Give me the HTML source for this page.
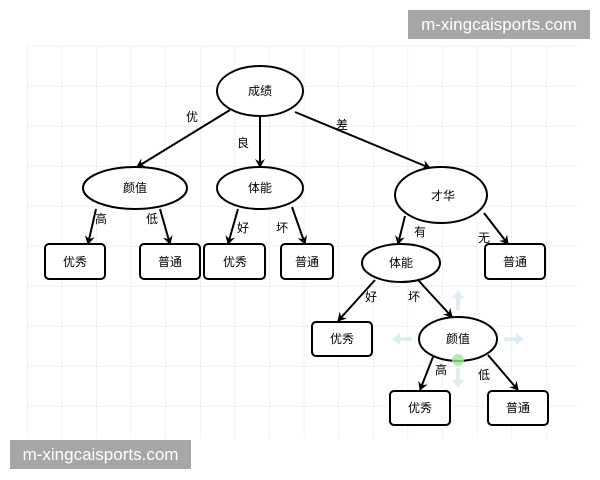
<!DOCTYPE html>
<html><head><meta charset="utf-8"><style>
body{margin:0;width:600px;height:480px;background:#fff;overflow:hidden;position:relative;font-family:"Liberation Sans","Noto Sans CJK SC",sans-serif}
.wm{position:absolute;background:#a6a6a6;color:#fff;font-size:17px;line-height:29px;text-align:center}
</style></head><body>
<svg width="600" height="480" style="position:absolute;left:0;top:0">
<defs>
<pattern id="g" x="27" y="46" width="34.6" height="40" patternUnits="userSpaceOnUse">
<path d="M0 0V40M0 0H34.6" stroke="#e6e6e6" stroke-width="1" fill="none"/>
</pattern>
<marker id="a" markerWidth="10" markerHeight="10" refX="8" refY="5" orient="auto" markerUnits="userSpaceOnUse">
<path d="M0,0 L9,5 L0,10 L3,5 Z" fill="#000"/>
</marker>
</defs>
<rect x="27" y="46" width="550" height="392" fill="url(#g)"/>
<g stroke="#000" stroke-width="2" fill="none" marker-end="url(#a)">
<line x1="230" y1="110" x2="137" y2="167"/>
<line x1="260" y1="115" x2="260" y2="167"/>
<line x1="295" y1="112" x2="430" y2="168"/>
<line x1="96" y1="209" x2="88" y2="244"/>
<line x1="160" y1="209" x2="170" y2="244"/>
<line x1="238" y1="209" x2="228" y2="244"/>
<line x1="292" y1="207" x2="305" y2="244"/>
<line x1="405" y1="216" x2="398" y2="244"/>
<line x1="484" y1="213" x2="508" y2="244"/>
<line x1="375" y1="280" x2="338" y2="321"/>
<line x1="418" y1="280" x2="452" y2="317"/>
<line x1="433" y1="357" x2="420" y2="390"/>
<line x1="488" y1="355" x2="518" y2="390"/>
</g>
<g fill="#cfe6f0" opacity="0.7">
<path d="M458 290 l-6 8 h4 v12 h4 v-12 h4z"/>
<path d="M458 388 l-6 -8 h4 v-12 h4 v12 h4z"/>
<path d="M392 339 l8 -6 v4 h12 v4 h-12 v4z"/>
<path d="M524 339 l-8 -6 v4 h-12 v4 h12 v4z"/>
</g>
<g stroke="#000" stroke-width="2" fill="#fff">
<ellipse cx="260" cy="91" rx="43" ry="25"/>
<ellipse cx="135" cy="188" rx="52" ry="21"/>
<ellipse cx="260" cy="188" rx="43" ry="21"/>
<ellipse cx="441" cy="195" rx="46" ry="28"/>
<ellipse cx="401" cy="263" rx="39" ry="19"/>
<ellipse cx="458" cy="339" rx="39" ry="22"/>
<rect x="45" y="244" width="60" height="35" rx="4"/>
<rect x="140" y="244" width="60" height="35" rx="4"/>
<rect x="204" y="244" width="61" height="35" rx="4"/>
<rect x="281" y="244" width="52" height="35" rx="4"/>
<rect x="485" y="244" width="60" height="35" rx="4"/>
<rect x="312" y="322" width="60" height="34" rx="4"/>
<rect x="390" y="391" width="60" height="34" rx="4"/>
<rect x="488" y="391" width="60" height="34" rx="4"/>
</g>
<circle cx="458" cy="360" r="6" fill="#9be89b" opacity="0.8"/>
<g font-size="12" text-anchor="middle" dominant-baseline="central" fill="#000" font-family="Liberation Sans,Noto Sans CJK SC,sans-serif">
<text x="260" y="91">成绩</text>
<text x="135" y="188">颜值</text>
<text x="260" y="188">体能</text>
<text x="443" y="196">才华</text>
<text x="401" y="263">体能</text>
<text x="458" y="339">颜值</text>
<text x="75" y="262">优秀</text>
<text x="170" y="262">普通</text>
<text x="235" y="262">优秀</text>
<text x="307" y="262">普通</text>
<text x="515" y="262">普通</text>
<text x="342" y="339">优秀</text>
<text x="420" y="408">优秀</text>
<text x="518" y="408">普通</text>
<text x="192" y="117">优</text>
<text x="243" y="143">良</text>
<text x="342" y="125">差</text>
<text x="101" y="219">高</text>
<text x="152" y="219">低</text>
<text x="243" y="228">好</text>
<text x="282" y="228">坏</text>
<text x="420" y="232">有</text>
<text x="484" y="238">无</text>
<text x="371" y="297">好</text>
<text x="414" y="297">坏</text>
<text x="441" y="370">高</text>
<text x="484" y="375">低</text>
</g>
</svg>
<div class="wm" style="left:408px;top:10px;width:182px">m-xingcaisports.com</div>
<div class="wm" style="left:10px;top:440px;width:181px">m-xingcaisports.com</div>
</body></html>
